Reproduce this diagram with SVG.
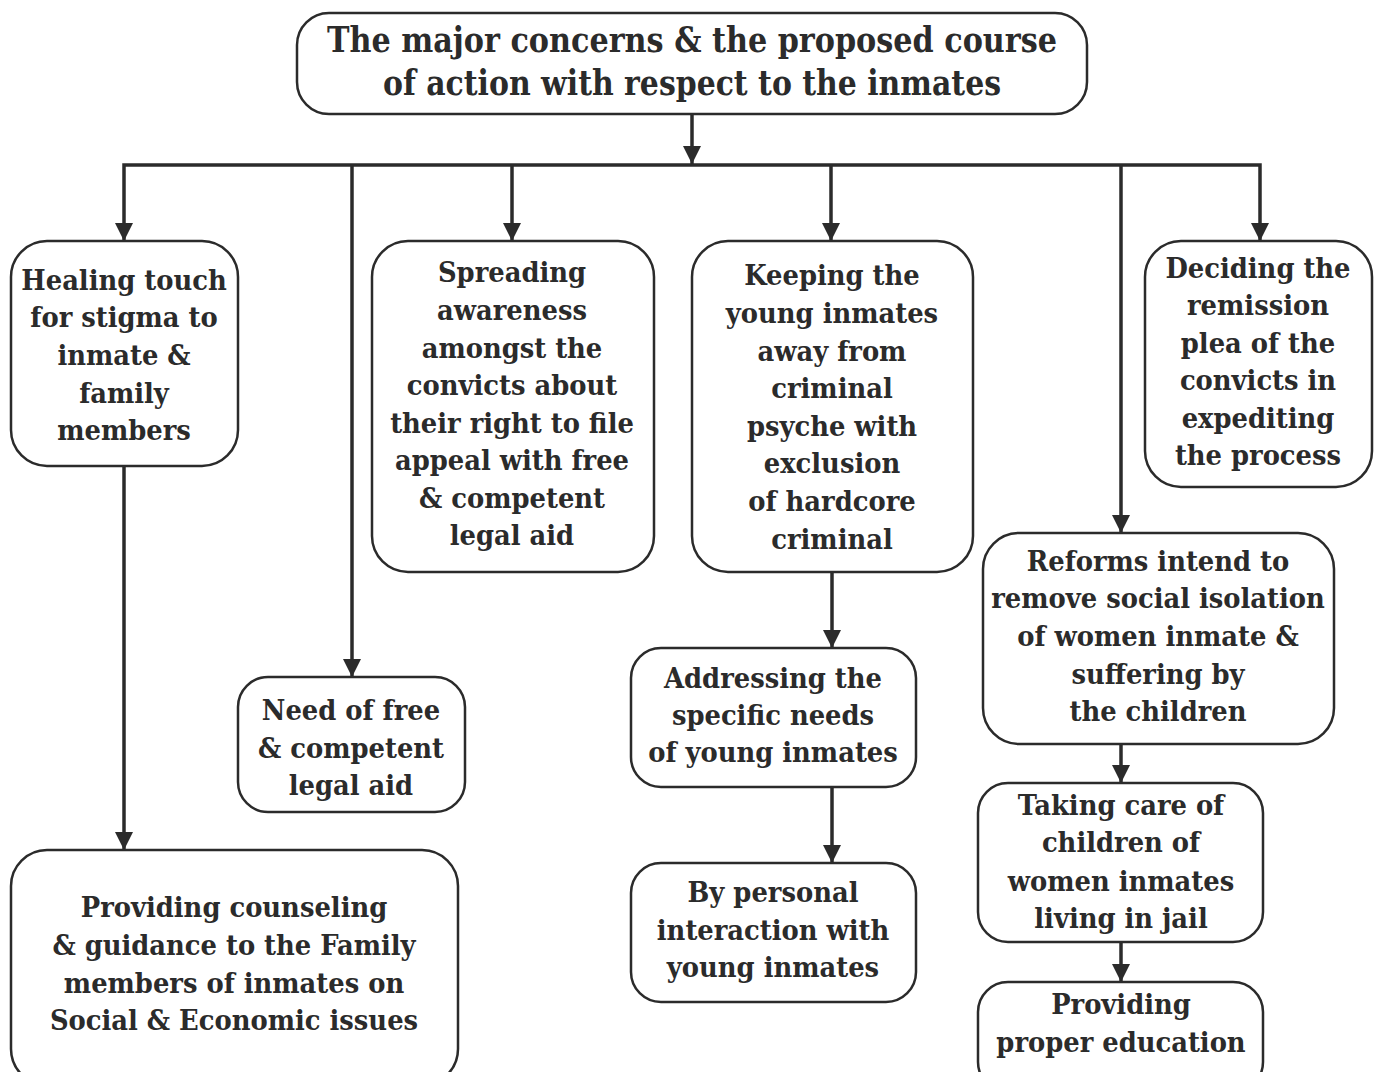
<svg xmlns="http://www.w3.org/2000/svg" width="1378" height="1072" viewBox="0 0 1378 1072">
<defs>
<marker id="ah" markerUnits="userSpaceOnUse" markerWidth="18" markerHeight="20" viewBox="0 0 18 20" refX="18" refY="9" orient="auto-start-reverse">
<path d="M0,0 L18,9 L0,18 Z" fill="#2b2b2b"/>
</marker>
</defs>
<style>
.box{fill:#fff;stroke:#2b2b2b;stroke-width:2.5}
.t{font-family:"DejaVu Serif Condensed","DejaVu Serif",serif;font-weight:bold;font-stretch:condensed;font-size:28.7px;fill:#2b2b2b;text-anchor:middle}
.title{font-family:"DejaVu Serif Condensed","DejaVu Serif",serif;font-weight:bold;font-stretch:condensed;font-size:36px;fill:#2b2b2b;text-anchor:middle}
.c{fill:none;stroke:#2b2b2b;stroke-width:3.5}
</style>
<g id="connectors">
<path class="c" d="M692,114 V164" marker-end="url(#ah)"/>
<path class="c" d="M124,241 V165 H1260 V241" marker-start="url(#ah)" marker-end="url(#ah)"/>
<path class="c" d="M352,165 V677" marker-end="url(#ah)"/>
<path class="c" d="M512,165 V241" marker-end="url(#ah)"/>
<path class="c" d="M831,165 V241" marker-end="url(#ah)"/>
<path class="c" d="M1121,165 V533" marker-end="url(#ah)"/>
<path class="c" d="M124,466 V850" marker-end="url(#ah)"/>
<path class="c" d="M832,572 V648" marker-end="url(#ah)"/>
<path class="c" d="M832,787 V863" marker-end="url(#ah)"/>
<path class="c" d="M1121,744 V783" marker-end="url(#ah)"/>
<path class="c" d="M1121,942 V982" marker-end="url(#ah)"/>
</g>
<g id="title">
<rect class="box" x="297" y="13" width="790" height="101" rx="32"/>
<text class="title" x="692" y="52" textLength="730" lengthAdjust="spacingAndGlyphs">The major concerns &amp; the proposed course</text>
<text class="title" x="692" y="95" textLength="618" lengthAdjust="spacingAndGlyphs">of action with respect to the inmates</text>
</g>
<g id="healing">
<rect class="box" x="11" y="241" width="227" height="225" rx="36"/>
<text class="t" x="124" y="290">Healing touch</text>
<text class="t" x="124" y="327">for stigma to</text>
<text class="t" x="124" y="365">inmate &amp;</text>
<text class="t" x="124" y="403">family</text>
<text class="t" x="124" y="440">members</text>
</g>
<g id="counseling">
<rect class="box" x="11" y="850" width="447" height="235" rx="36"/>
<text class="t" x="234" y="917">Providing counseling</text>
<text class="t" x="234" y="955">&amp; guidance to the Family</text>
<text class="t" x="234" y="993">members of inmates on</text>
<text class="t" x="234" y="1030">Social &amp; Economic issues</text>
</g>
<g id="legal">
<rect class="box" x="238" y="677" width="227" height="135" rx="30"/>
<text class="t" x="351" y="720">Need of free</text>
<text class="t" x="351" y="758">&amp; competent</text>
<text class="t" x="351" y="795">legal aid</text>
</g>
<g id="spreading">
<rect class="box" x="372" y="241" width="282" height="331" rx="36"/>
<text class="t" x="512" y="282">Spreading</text>
<text class="t" x="512" y="320">awareness</text>
<text class="t" x="512" y="358">amongst the</text>
<text class="t" x="512" y="395">convicts about</text>
<text class="t" x="512" y="433">their right to file</text>
<text class="t" x="512" y="470">appeal with free</text>
<text class="t" x="512" y="508">&amp; competent</text>
<text class="t" x="512" y="545">legal aid</text>
</g>
<g id="keeping">
<rect class="box" x="692" y="241" width="281" height="331" rx="36"/>
<text class="t" x="832" y="285">Keeping the</text>
<text class="t" x="832" y="323">young inmates</text>
<text class="t" x="832" y="361">away from</text>
<text class="t" x="832" y="398">criminal</text>
<text class="t" x="832" y="436">psyche with</text>
<text class="t" x="832" y="473">exclusion</text>
<text class="t" x="832" y="511">of hardcore</text>
<text class="t" x="832" y="549">criminal</text>
</g>
<g id="addressing">
<rect class="box" x="631" y="648" width="285" height="139" rx="30"/>
<text class="t" x="773" y="688">Addressing the</text>
<text class="t" x="773" y="725">specific needs</text>
<text class="t" x="773" y="762">of young inmates</text>
</g>
<g id="personal">
<rect class="box" x="631" y="863" width="285" height="139" rx="30"/>
<text class="t" x="773" y="902">By personal</text>
<text class="t" x="773" y="940">interaction with</text>
<text class="t" x="773" y="977">young inmates</text>
</g>
<g id="deciding">
<rect class="box" x="1145" y="241" width="227" height="246" rx="36"/>
<text class="t" x="1258" y="278">Deciding the</text>
<text class="t" x="1258" y="315">remission</text>
<text class="t" x="1258" y="353">plea of the</text>
<text class="t" x="1258" y="390">convicts in</text>
<text class="t" x="1258" y="428">expediting</text>
<text class="t" x="1258" y="465">the process</text>
</g>
<g id="reforms">
<rect class="box" x="983" y="533" width="351" height="211" rx="36"/>
<text class="t" x="1158" y="571">Reforms intend to</text>
<text class="t" x="1158" y="608">remove social isolation</text>
<text class="t" x="1158" y="646">of women inmate &amp;</text>
<text class="t" x="1158" y="684">suffering by</text>
<text class="t" x="1158" y="721">the children</text>
</g>
<g id="taking">
<rect class="box" x="978" y="783" width="285" height="159" rx="30"/>
<text class="t" x="1121" y="815">Taking care of</text>
<text class="t" x="1121" y="852">children of</text>
<text class="t" x="1121" y="891">women inmates</text>
<text class="t" x="1121" y="928">living in jail</text>
</g>
<g id="education">
<rect class="box" x="978" y="982" width="285" height="110" rx="30"/>
<text class="t" x="1121" y="1014">Providing</text>
<text class="t" x="1121" y="1052">proper education</text>
</g>
</svg>
